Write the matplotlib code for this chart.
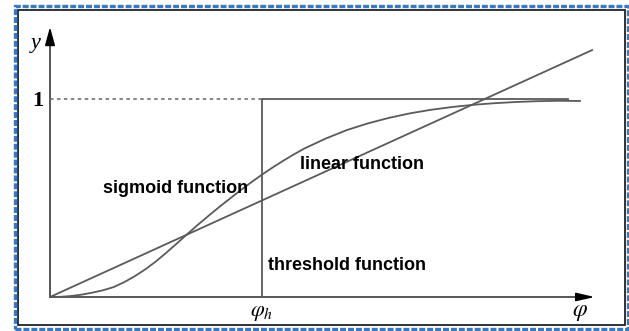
import matplotlib
matplotlib.use("Agg")
import matplotlib.pyplot as plt
from matplotlib.patches import Rectangle

plt.rcParams['lines.scale_dashes'] = False
plt.rcParams['mathtext.fontset'] = 'stix'

# sigmoid curve (x in units of phi_h, y in units of 1)
sig_x = [0, 0.05, 0.1, 0.15, 0.2, 0.25, 0.3, 0.35, 0.4, 0.45, 0.5, 0.55,
         0.6, 0.65, 0.7, 0.75, 0.8, 0.85, 0.9, 0.95, 1.0, 1.05, 1.1, 1.15,
         1.2, 1.3, 1.4, 1.5, 1.6, 1.7, 1.8, 1.9, 2.0, 2.1, 2.2, 2.3, 2.4, 2.5]
sig_y = [0, 0.001, 0.005, 0.012, 0.022, 0.034, 0.05, 0.075, 0.105, 0.14,
         0.18, 0.225, 0.272, 0.32, 0.367, 0.412, 0.456, 0.498, 0.54, 0.58,
         0.618, 0.654, 0.688, 0.72, 0.75, 0.80, 0.843, 0.877, 0.905, 0.928,
         0.946, 0.96, 0.971, 0.979, 0.985, 0.989, 0.991, 0.99]

# linear function
lin_x = [0, 2.557]
lin_y = [0, 1.247]

# threshold (step) function
thr_x = [1.0, 1.0, 2.443]
thr_y = [0, 1, 1]

# dashed guide at y = 1
guide_x = [0, 1.0]
guide_y = [1, 1]

# axis ends
x_axis_end = 2.57
y_axis_end = 1.364

W, H = 629, 331
fig = plt.figure(figsize=(W / 100, H / 100), dpi=100)
ax = fig.add_axes([0, 0, 1, 1])
ax.set_xlim(-50 / 212, 579 / 212)
ax.set_ylim(-34 / 198, 297 / 198)
ax.axis('off')

curve = '#5a5a5a'

# axes with arrow heads
ax.plot([0, x_axis_end - 0.06], [0, 0], color='#555555', lw=1.4)
ax.plot([0, 0], [0, y_axis_end - 0.06], color='#555555', lw=1.4)
ax.annotate('', xy=(x_axis_end, 0), xytext=(x_axis_end - 0.09, 0),
            arrowprops=dict(arrowstyle='-|>,head_length=1.1,head_width=0.25',
                            color='black', lw=1.2, shrinkA=0, shrinkB=0))
ax.annotate('', xy=(0, y_axis_end), xytext=(0, y_axis_end - 0.08),
            arrowprops=dict(arrowstyle='-|>,head_length=1.1,head_width=0.3',
                            color='black', lw=1.2, shrinkA=0, shrinkB=0))

ax.plot(guide_x, guide_y, color='#666666', lw=1.1, linestyle=(0, (2.5, 2.5)))
ax.plot(thr_x, thr_y, color=curve, lw=1.3)
ax.plot(lin_x, lin_y, color=curve, lw=1.3)
ax.plot(sig_x, sig_y, color=curve, lw=1.3, solid_joinstyle='round')

# labels
ax.text(-0.065, 1.28, 'y', family='Liberation Serif', style='italic',
        fontsize=16, ha='center', va='center')
ax.text(-0.056, 0.99, '1', family='Liberation Serif', weight='bold',
        fontsize=16, ha='center', va='center')
ax.text(1.0, -0.08, r'$\varphi_h$', fontsize=16, ha='center', va='center')
ax.text(2.5, -0.07, r'$\varphi$', fontsize=17, ha='center', va='center')

lab = dict(family='Liberation Sans', weight='bold', fontsize=13,
           ha='left', va='center')
ax.text(0.25, 0.55, 'sigmoid function', **lab)
ax.text(1.179, 0.667, 'linear function', **lab)
ax.text(1.028, 0.157, 'threshold function', **lab)

# frames
fig.patches.append(Rectangle((18 / W, 6 / H), 607 / W, 315 / H,
                             transform=fig.transFigure, fill=False,
                             edgecolor='#222222', lw=1.3))
fig.patches.append(Rectangle((15 / W, 2 / H), 613 / W, 323 / H,
                             transform=fig.transFigure, fill=False,
                             edgecolor='#3a78c0', lw=2.4,
                             linestyle=(0, (4.3, 1.4))))

fig.savefig('out.png', dpi=100)
